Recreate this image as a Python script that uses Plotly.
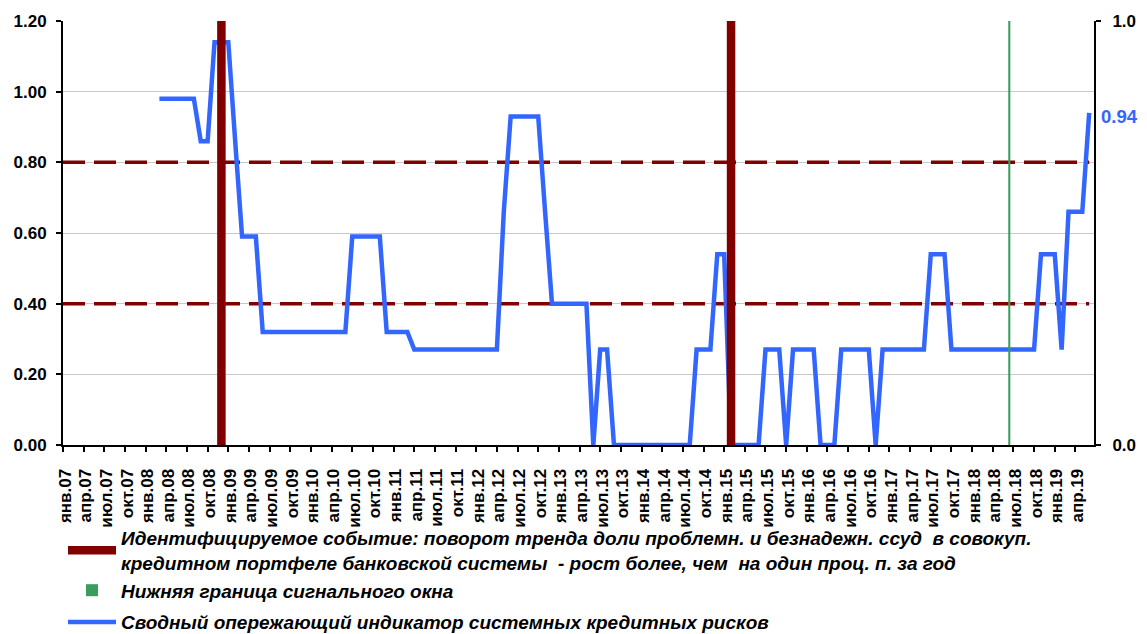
import plotly.graph_objects as go

# monthly categories янв.07 ... июн.19
month_names = ['янв', 'фев', 'мар', 'апр', 'май', 'июн',
               'июл', 'авг', 'сен', 'окт', 'ноя', 'дек']
years = ['07', '08', '09', '10', '11', '12', '13', '14', '15', '16', '17', '18', '19']
months = [m + '.' + y for y in years for m in month_names][:150]

# Сводный опережающий индикатор, Jan..Dec by year
indicator = [
    None, None, None, None, None, None, None, None, None, None, None, None,   # 2007
    None, None, 0.98, 0.98, 0.98, 0.98, 0.98, 0.98, 0.86, 0.86, 1.14, 1.14,   # 2008
    1.14, 0.86, 0.59, 0.59, 0.59, 0.32, 0.32, 0.32, 0.32, 0.32, 0.32, 0.32,   # 2009
    0.32, 0.32, 0.32, 0.32, 0.32, 0.32, 0.59, 0.59, 0.59, 0.59, 0.59, 0.32,   # 2010
    0.32, 0.32, 0.32, 0.27, 0.27, 0.27, 0.27, 0.27, 0.27, 0.27, 0.27, 0.27,   # 2011
    0.27, 0.27, 0.27, 0.27, 0.66, 0.93, 0.93, 0.93, 0.93, 0.93, 0.66, 0.40,   # 2012
    0.40, 0.40, 0.40, 0.40, 0.40, 0.00, 0.27, 0.27, 0.00, 0.00, 0.00, 0.00,   # 2013
    0.00, 0.00, 0.00, 0.00, 0.00, 0.00, 0.00, 0.00, 0.27, 0.27, 0.27, 0.54,   # 2014
    0.54, 0.00, 0.00, 0.00, 0.00, 0.00, 0.27, 0.27, 0.27, 0.00, 0.27, 0.27,   # 2015
    0.27, 0.27, 0.00, 0.00, 0.00, 0.27, 0.27, 0.27, 0.27, 0.27, 0.00, 0.27,   # 2016
    0.27, 0.27, 0.27, 0.27, 0.27, 0.27, 0.54, 0.54, 0.54, 0.27, 0.27, 0.27,   # 2017
    0.27, 0.27, 0.27, 0.27, 0.27, 0.27, 0.27, 0.27, 0.27, 0.27, 0.54, 0.54,   # 2018
    0.54, 0.27, 0.66, 0.66, 0.66, 0.94,                                       # 2019
]

event_months = ['дек.08', 'фев.15']
window_months = ['июн.18']
window_values = [1]
thresholds = [0.4, 0.8]

FONT = 'Liberation Sans, Arial, sans-serif'
BLUE = '#3366FF'
DARKRED = '#800000'

fig = go.Figure()

# threshold levels, drawn as flat series across all months (under the indicator)
for t in thresholds:
    fig.add_trace(go.Scatter(
        x=[months[0], months[-1]], y=[t, t], mode='lines',
        line=dict(color=DARKRED, width=3.5, dash='22px,9px'),
        showlegend=False, hoverinfo='skip'))

fig.add_trace(go.Scatter(
    x=months, y=indicator, name='<b><i>Сводный опережающий индикатор системных кредитных рисков</i></b>',
    mode='lines', line=dict(color=BLUE, width=4.5),
    legendgroup='b', legendrank=3))

# identified events: full-height vertical markers on the secondary (0..1) axis
ev_x, ev_y = [], []
for m in event_months:
    ev_x += [m, m, None]
    ev_y += [0, 1, None]
fig.add_trace(go.Scatter(
    x=ev_x, y=ev_y, yaxis='y2', mode='lines',
    name='<b><i>Идентифицируемое событие: поворот тренда доли проблемн. и безнадежн. ссуд  в совокуп.'
         '<br>кредитном портфеле банковской системы  - рост более, чем  на один проц. п. за год</i></b>',
    line=dict(color=DARKRED, width=8.5),
    legendgroup='a', legendrank=1))

fig.add_trace(go.Bar(
    x=window_months, y=window_values, yaxis='y2', width=0.3, offset=0.25,
    name='<b><i>Нижняя граница сигнального окна</i></b>',
    marker=dict(color='#3a9d5d', line=dict(width=0)),
    legendgroup='a', legendrank=2))

fig.add_annotation(x=months[len(indicator) - 1], y=indicator[-1], xref='x', yref='y',
                   text='<b>%.2f</b>' % indicator[-1], showarrow=False,
                   xanchor='left', xshift=10, yshift=-4,
                   font=dict(family=FONT, size=18.5, color=BLUE))

fig.update_layout(
    width=1139, height=626,
    margin=dict(l=55, r=53, t=13, b=189, autoexpand=False),
    paper_bgcolor='white', plot_bgcolor='white',
    barmode='overlay',
    font=dict(family=FONT, color='black'),
    showlegend=True,
    legend=dict(x=0, xanchor='left', y=-0.1744, yanchor='top',
                orientation='v', traceorder='grouped', tracegroupgap=4,
                itemwidth=48, font=dict(family=FONT, size=19, color='black'),
                bgcolor='rgba(0,0,0,0)'),
    xaxis=dict(type='category', categoryorder='array', categoryarray=months,
               range=[0, 149.7], tickvals=months[::3], tickangle=-90,
               tickfont=dict(family=FONT, size=17, color='black', weight='bold'),
               ticklabelstandoff=10, ticklabelshift=2,
               showline=True, linecolor='black', linewidth=2,
               ticks='outside', ticklen=5, tickwidth=2, tickcolor='black',
               showgrid=False, zeroline=False),
    yaxis=dict(range=[0, 1.2], dtick=0.2, tickformat='.2f',
               tickfont=dict(family=FONT, size=17, color='black', weight='bold'),
               ticklabelstandoff=6,
               showline=True, linecolor='black', linewidth=2,
               ticks='outside', ticklen=5, tickwidth=2, tickcolor='black',
               gridcolor='#c8c8c8', gridwidth=1, zeroline=False),
    yaxis2=dict(range=[0, 1], overlaying='y', side='right', tickvals=[0, 1],
                tickformat='.1f',
                tickfont=dict(family=FONT, size=17, color='black', weight='bold'),
                ticklabelstandoff=8,
                showline=True, linecolor='black', linewidth=2,
                ticks='outside', ticklen=5, tickwidth=2, tickcolor='black',
                showgrid=False, zeroline=False),
)

fig.write_html('out.html')
